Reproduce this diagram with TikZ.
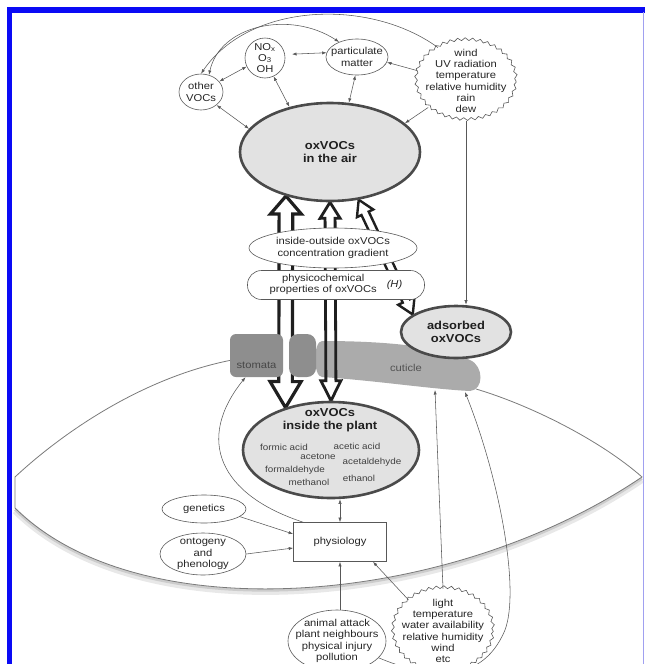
\documentclass[tikz,border=0pt]{standalone}
\usepackage{fontspec}
\setmainfont{Liberation Sans}[FakeStretch=1.12]
\usepackage{tikz}
\usetikzlibrary{arrows.meta,calc,shapes.geometric,decorations.pathmorphing}
\definecolor{frameblue}{HTML}{0A0AF5}
\definecolor{framelav}{HTML}{A0A0F0}
\definecolor{linegray}{HTML}{585858}
\definecolor{textgray}{HTML}{262626}
\definecolor{nodeline}{HTML}{4A4A4A}
\definecolor{nodefill}{HTML}{E2E2E2}
\definecolor{stomagray}{HTML}{8E8E8E}
\definecolor{cutgray}{HTML}{ABABAB}
\definecolor{leafgray}{HTML}{7A7A7A}
\pgfdeclarelayer{leaflayer}
\pgfdeclarelayer{tissue}
\pgfsetlayers{leaflayer,tissue,main}

% hollow double arrow: style, from, to, shaft half width, head half width, head lengths
\newcommand{\hollowarrow}[7]{%
  \coordinate (ha1) at (#2);
  \coordinate (ha2) at (#3);
  \coordinate (hb1) at ($(ha1)!#6!(ha2)$);
  \coordinate (hb2) at ($(ha2)!#7!(ha1)$);
  \draw[#1] (ha1) -- ($(hb1)!#5!90:(ha2)$) -- ($(hb1)!#4!90:(ha2)$)
    -- ($(hb2)!#4!-90:(ha1)$) -- ($(hb2)!#5!-90:(ha1)$) -- (ha2)
    -- ($(hb2)!#5!90:(ha1)$) -- ($(hb2)!#4!90:(ha1)$)
    -- ($(hb1)!#4!-90:(ha2)$) -- ($(hb1)!#5!-90:(ha2)$) -- cycle;}

\begin{document}
\begin{tikzpicture}[x=1pt,y=-1pt,
  font=\fontsize{10}{11.3}\selectfont, text=textgray,
  small/.style={ellipse,draw=linegray,line width=0.6pt,fill=white,align=center,inner sep=0pt},
  wavy/.style={small,decorate,decoration={snake,amplitude=1.4pt,segment length=7.5pt}},
  big/.style={ellipse,draw=nodeline,line width=2.6pt,fill=nodefill,align=center,inner sep=0pt,
    text=black!88,font=\fontsize{11.5}{13.5}\selectfont\bfseries},
  cmpd/.style={font=\fontsize{8.8}{10}\selectfont,inner sep=0pt,text=black!75},
  con/.style={-{Latex[length=4.5pt,width=3.2pt]},draw=linegray,line width=0.55pt},
  dcon/.style={con,{Latex[length=4.5pt,width=3.2pt]}-{Latex[length=4.5pt,width=3.2pt]}},
  hollow/.style={draw=black!88,line join=miter}
]
\useasboundingbox (0,0) rectangle (645,664);

% atmosphere
\node[small,minimum width=44pt,minimum height=36pt] (other) at (201,92) {other\\VOCs};
\node[small,minimum size=40pt,inner ysep=-2pt] (nox) at (265,58) {NO\textsubscript{x}\\O\textsubscript{3}\\OH};
\node[small,minimum width=62pt,minimum height=36pt,inner xsep=-4pt] (part) at (357,57) {particulate\\matter};
\node[wavy,minimum width=100pt,minimum height=80pt,inner xsep=-5.6pt,inner ysep=-4.7pt] (weather) at (466,81)
  {wind\\UV radiation\\temperature\\relative humidity\\rain\\dew};
\node[big,minimum width=180pt,minimum height=98pt] (air) at (330,152) {oxVOCs\\in the air};

% exchange
\node[small,minimum width=168pt,minimum height=40pt] (grad) at (333,248) {inside-outside oxVOCs\\concentration gradient};
\node[draw=linegray,line width=0.6pt,fill=white,rounded corners=14pt,minimum width=177pt,minimum height=29pt,inner sep=0pt]
  (physchem) at (336,285) {\begin{tabular}{@{}c@{}}physicochemical\\properties of oxVOCs\end{tabular}\quad\textit{(H)}};
\node[big,minimum width=110pt,minimum height=52pt] (ads) at (456,332) {adsorbed\\oxVOCs};

% plant
\node[big,minimum width=176pt,minimum height=96pt] (plant) at (331,450) {};
\node[font=\fontsize{11.5}{13.5}\selectfont\bfseries,text=black!88,align=center] (plantname)
  at ($(plant.center)+(-1,-30)$) {oxVOCs\\inside the plant};
\node[cmpd] (formic) at ($(plant.center)+(-47,-3)$) {formic acid};
\node[cmpd] (acetic) at ($(plant.center)+(26,-4)$) {acetic acid};
\node[cmpd] (acetone) at ($(plant.center)+(-13,7)$) {acetone};
\node[cmpd] (acetald) at ($(plant.center)+(41,12)$) {acetaldehyde};
\node[cmpd] (formald) at ($(plant.center)+(-36,20)$) {formaldehyde};
\node[cmpd] (methanol) at ($(plant.center)+(-22,32)$) {methanol};
\node[cmpd] (ethanol) at ($(plant.center)+(28,28)$) {ethanol};

\node[draw=linegray,line width=0.6pt,fill=white,minimum width=93pt,minimum height=39pt] (physio) at (340,542) {physiology};
\node[small,minimum width=84pt,minimum height=28pt] (gen) at (204,509) {genetics};
\node[small,minimum width=86pt,minimum height=42pt,inner ysep=-1.5pt] (onto) at (203,554) {ontogeny\\and\\phenology};
\node[small,minimum width=98pt,minimum height=62pt,inner xsep=-7pt] (anim) at (337,641)
  {animal attack\\plant neighbours\\physical injury\\pollution};
\node[wavy,minimum width=100pt,minimum height=84pt,inner xsep=-5.6pt,inner ysep=-4.7pt] (light) at (443,631)
  {light\\temperature\\water availability\\relative humidity\\wind\\etc};

% leaf outline and the stomatal flux
\begin{pgfonlayer}{leaflayer}
\draw[gray!18,line width=6pt,shift={(0,3)}] (15,508) .. controls (140,632) and (450,607) .. (642,477);
\draw[gray!40,line width=2.5pt,shift={(0,1.5)}] (15,508) .. controls (140,632) and (450,607) .. (642,477);
\draw[leafgray,line width=0.8pt] (232,360) .. controls (140,378) and (60,435) .. (15,477) -- (15,508)
  .. controls (140,632) and (450,607) .. (642,477) .. controls (600,440) and (530,405) .. (476,389);
\hollowarrow{hollow,line width=3.2pt}{air.225}{plant.137}{6.8pt}{15.5pt}{18pt}{26pt}
\end{pgfonlayer}

% stomata and cuticle
\begin{pgfonlayer}{tissue}
\fill[cutgray] (322,341) .. controls (390,341) and (440,347) .. (470,360) .. controls (484,366) and (484,390) .. (470,391)
  .. controls (430,389) and (380,381) .. (322,377) .. controls (313,377) and (313,341) .. (322,341) -- cycle;
\node[fill=stomagray,rounded corners=6pt,minimum width=53pt,minimum height=43pt,inner sep=0pt] (stomaL) at (256.5,355.5) {};
\node[fill=stomagray,rounded corners=9pt,minimum width=27pt,minimum height=43pt,inner sep=0pt] (stomaR) at (302.5,355.5) {};
\node[text=black!72] (stomatext) at ($(stomaL.center)+(0,10)$) {stomata};
\node[text=black!68] (cuttext) at (406,368) {cuticle};
\hollowarrow{hollow,line width=2.8pt}{air.south}{plant.north}{5pt}{10pt}{16pt}{20pt}
\hollowarrow{hollow,line width=2.4pt}{air.301}{ads.158}{4pt}{9pt}{15pt}{15pt}
\end{pgfonlayer}
\coordinate (cutL) at (435,390);
\coordinate (cutR) at (465,392);

% atmospheric links
\draw[con] (weather.130) .. controls (370,-2) and (250,2) .. (other.north);
\draw[dcon] (other.65) .. controls (220,25) and (290,10) .. (part.140);
\draw[dcon] (other.30) -- (nox.205);
\draw[dcon,shorten <=7pt] (nox.10) -- (part.172);
\draw[con] (weather.168) -- (part.350);
\draw[dcon] (nox.295) -- (air.132);
\draw[dcon] (other.320) -- (air.164);
\draw[dcon] (part.265) -- (air.69);
\draw[con] (weather.215) -- (air.21);
\draw[con] (weather.south) -- (weather.south |- ads.north);

% plant links
\draw[dcon] (physio.north) -- (physio.north |- plant.south);
\draw[con] (gen.-12) -- ([yshift=8pt]physio.west);
\draw[con] (onto.east) -- ([yshift=-6pt]physio.west);
\draw[con] ([xshift=3pt]anim.north) -- ([xshift=3pt]anim.north |- physio.south);
\draw[con] (light.138) -- ([xshift=33pt]physio.south);
\draw[con] (light.north) -- (cutL);
\draw[con] (anim.-22) .. controls (420,675) and (480,690) .. (505,630) .. controls (520,590) and (500,480) .. (cutR);
\draw[con] ($(physio.north west)+(10,0)$) .. controls (220,495) and (195,440) .. ([xshift=-11pt]stomaL.south);

% frame
\draw[frameblue,line width=5.5pt] (7,10) -- (645,10);
\draw[frameblue,line width=5pt] (9.8,7.25) -- (9.8,664);
\draw[framelav,line width=1.2pt] (643.5,12) -- (643.5,664);
\end{tikzpicture}
\end{document}
